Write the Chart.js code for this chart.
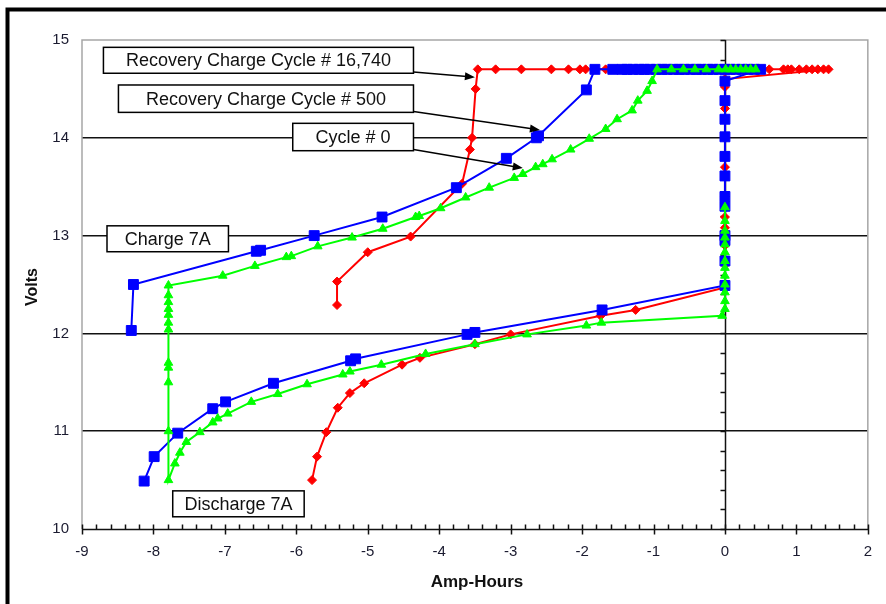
<!DOCTYPE html>
<html>
<head>
<meta charset="utf-8">
<title>Battery cycle curves</title>
<script src="https://cdn.jsdelivr.net/npm/chart.js@4.4.1/dist/chart.umd.min.js"></script>
<style>
  html, body { margin: 0; padding: 0; background: #fff; }
  #wrap { width: 886px; height: 604px; }
</style>
</head>
<body>
<div id="wrap"><canvas id="voltsChart" width="886" height="604"></canvas></div>
<script>
// Recovery Charge Cycle # 16,740 (red diamonds): charge, back to 0, rest, discharge
const cycle16740Ah = [-5.43, -5.43, -5.0, -4.40, -3.68, -3.57, -3.54, -3.49, -3.46,
  -3.21, -2.85, -2.43, -2.19, -2.03, -1.95, -1.67, -1.2, -0.6, 0.0, 0.4, 0.62, 0.82, 0.88, 0.93, 1.04, 1.14, 1.22, 1.30, 1.38, 1.45,
  0, 0, 0, 0, 0, 0, 0, 0, 0, 0, 0,
  0, -1.25, -1.74, -3.0, -3.5, -4.27, -4.52, -5.05, -5.25, -5.42, -5.58, -5.71, -5.78];
const cycle16740V = [12.29, 12.53, 12.83, 12.99, 13.53, 13.88, 14.0, 14.5, 14.7,
  14.7, 14.7, 14.7, 14.7, 14.7, 14.7, 14.7, 14.7, 14.7, 14.7, 14.7, 14.7, 14.7, 14.7, 14.7, 14.7, 14.7, 14.7, 14.7, 14.7, 14.7,
  14.6, 14.52, 14.3, 14.0, 13.7, 13.4, 13.19, 13.08, 12.9, 12.7, 12.5,
  12.47, 12.24, 12.18, 11.99, 11.89, 11.75, 11.68, 11.49, 11.39, 11.24, 10.99, 10.74, 10.5];

// Recovery Charge Cycle # 500 (blue squares)
const cycle500Ah = [-8.31, -8.28, -6.56, -6.50, -5.75, -4.80, -3.76, -3.06, -2.64, -2.61, -1.94, -1.82, -1.57,
  -1.44, -1.37, -1.29, -1.2, -1.13, -1.05, -0.96, -0.88, -0.81, -0.72, -0.64, -0.57, -0.48, -0.4, -0.33, -0.24, -0.17, -0.08, 0.0, 0.07, 0.15, 0.24, 0.32, 0.41, 0.5,
  0, 0, 0, 0, 0, 0, 0, 0, 0, 0, 0, 0,
  -1.72, -3.50, -3.61, -5.17, -5.24, -6.32, -6.99, -7.17, -7.66, -7.99, -8.13];
const cycle500V = [12.03, 12.5, 12.84, 12.85, 13.0, 13.19, 13.49, 13.79, 14.0, 14.02, 14.49, 14.7, 14.7,
  14.7, 14.7, 14.7, 14.7, 14.7, 14.7, 14.7, 14.7, 14.7, 14.7, 14.7, 14.7, 14.7, 14.7, 14.7, 14.7, 14.7, 14.7, 14.7, 14.7, 14.7, 14.7, 14.7, 14.7, 14.7,
  14.58, 14.38, 14.19, 14.01, 13.81, 13.61, 13.4, 13.3, 13.0, 12.95, 12.74, 12.49,
  12.24, 12.01, 11.99, 11.74, 11.72, 11.49, 11.3, 11.23, 10.98, 10.74, 10.49];

// Cycle # 0 (green triangles): rest, discharge, rest, charge
const cycle0Ah = [0, 0, 0, 0, 0, 0, 0, 0, 0, 0, 0, 0, 0,
  -0.04, -1.73, -1.94, -2.77, -3.50, -4.19, -4.81, -5.25, -5.35, -5.85, -6.26, -6.63, -6.96, -7.10, -7.17, -7.35, -7.54, -7.63, -7.70, -7.79,
  -7.79, -7.79, -7.79, -7.79, -7.79, -7.79, -7.79, -7.79, -7.79, -7.79, -7.79,
  -7.03, -6.58, -6.14, -6.07, -5.70, -5.22, -4.79, -4.33, -4.28, -3.98, -3.63, -3.30, -2.95, -2.83, -2.65, -2.55, -2.42, -2.16, -1.90, -1.67, -1.51, -1.30, -1.22, -1.09, -1.02, -0.95,
  -0.75, -0.58, -0.42, -0.26, -0.09, 0.01, 0.08, 0.15, 0.22, 0.29, 0.36, 0.43];
const cycle0V = [13.29, 13.15, 13.05, 12.98, 12.91, 12.83, 12.74, 12.67, 12.59, 12.5, 12.42, 12.33, 12.25,
  12.18, 12.11, 12.08, 11.99, 11.89, 11.79, 11.68, 11.61, 11.58, 11.48, 11.38, 11.3, 11.18, 11.13, 11.09, 10.99, 10.89, 10.78, 10.67, 10.5,
  11.0, 11.5, 11.65, 11.7, 12.04, 12.11, 12.19, 12.25, 12.32, 12.39, 12.49,
  12.59, 12.69, 12.78, 12.79, 12.89, 12.98, 13.07, 13.19, 13.2, 13.28, 13.39, 13.49, 13.59, 13.63, 13.7, 13.73, 13.78, 13.88, 13.99, 14.09, 14.19, 14.28, 14.38, 14.48, 14.58, 14.7,
  14.7, 14.7, 14.7, 14.7, 14.7, 14.7, 14.7, 14.7, 14.7, 14.7, 14.7, 14.7];

const xTicks = [-9, -8, -7, -6, -5, -4, -3, -2, -1, 0, 1, 2];
const yTicks = [10, 11, 12, 13, 14, 15];

// text boxes, in data units (Amp-Hours, Volts)
const notes = [
  { text: "Recovery Charge Cycle # 16,740", x1: -8.70, x2: -4.36, y1: 14.925, y2: 14.66, arrow: [-4.36, 14.673, -3.50, 14.62] },
  { text: "Recovery Charge Cycle # 500", x1: -8.49, x2: -4.36, y1: 14.54, y2: 14.26, arrow: [-4.36, 14.27, -2.59, 14.08] },
  { text: "Cycle # 0", x1: -6.05, x2: -4.36, y1: 14.148, y2: 13.868, arrow: [-4.36, 13.88, -2.83, 13.69] },
  { text: "Charge 7A", x1: -8.65, x2: -6.95, y1: 13.10, y2: 12.835 },
  { text: "Discharge 7A", x1: -7.73, x2: -5.89, y1: 10.39, y2: 10.125 }
];

const FONT = "'Liberation Sans', Arial, sans-serif";

function toPoints(xs, ys) {
  return xs.map((x, i) => ({ x: x, y: ys[i] }));
}

const frameAndAxes = {
  id: "frameAndAxes",
  beforeDatasetsDraw(chart) {
    const ctx = chart.ctx;
    const area = chart.chartArea;
    const sx = chart.scales.x;
    const sy = chart.scales.y;
    ctx.save();

    // outer frame
    ctx.strokeStyle = "#000";
    ctx.lineWidth = 4;
    ctx.strokeRect(7.5, 9.5, 900, 620);

    // grey plot border
    ctx.strokeStyle = "#a6a6a6";
    ctx.lineWidth = 1.5;
    ctx.beginPath();
    ctx.moveTo(area.left, area.bottom);
    ctx.lineTo(area.left, area.top);
    ctx.lineTo(area.right, area.top);
    ctx.lineTo(area.right, area.bottom);
    ctx.stroke();

    ctx.strokeStyle = "#111";
    ctx.lineWidth = 1.5;

    // vertical axis at 0 Ah
    const x0 = Math.round(sx.getPixelForValue(0)) + 0.5;
    ctx.beginPath();
    ctx.moveTo(x0, area.top);
    ctx.lineTo(x0, area.bottom);
    for (let v = 10; v <= 15.001; v += 0.2) {
      const py = Math.round(sy.getPixelForValue(v)) + 0.5;
      ctx.moveTo(x0 - 5, py);
      ctx.lineTo(x0, py);
    }
    ctx.stroke();

    // horizontal axis at 10 V
    const y0 = Math.round(area.bottom) + 0.5;
    ctx.beginPath();
    ctx.moveTo(area.left, y0);
    ctx.lineTo(area.right, y0);
    for (let a = -9; a <= 2.001; a += 0.2) {
      const px = Math.round(sx.getPixelForValue(a)) + 0.5;
      const major = Math.abs(a - Math.round(a)) < 0.01;
      ctx.moveTo(px, y0 - 5);
      ctx.lineTo(px, major ? y0 + 5 : y0);
    }
    ctx.stroke();
    ctx.restore();
  },
  afterDatasetsDraw(chart) {
    const ctx = chart.ctx;
    const area = chart.chartArea;
    const sx = chart.scales.x;
    const sy = chart.scales.y;
    ctx.save();

    notes.forEach((n) => {
      const left = sx.getPixelForValue(n.x1);
      const right = sx.getPixelForValue(n.x2);
      const top = sy.getPixelForValue(n.y1);
      const bottom = sy.getPixelForValue(n.y2);
      if (n.arrow) {
        const ax = sx.getPixelForValue(n.arrow[0]);
        const ay = sy.getPixelForValue(n.arrow[1]);
        const bx = sx.getPixelForValue(n.arrow[2]);
        const by = sy.getPixelForValue(n.arrow[3]);
        const ang = Math.atan2(by - ay, bx - ax);
        ctx.strokeStyle = "#000";
        ctx.lineWidth = 1.5;
        ctx.beginPath();
        ctx.moveTo(ax, ay);
        ctx.lineTo(bx - 8 * Math.cos(ang), by - 8 * Math.sin(ang));
        ctx.stroke();
        ctx.fillStyle = "#000";
        ctx.beginPath();
        ctx.moveTo(bx, by);
        ctx.lineTo(bx - 10 * Math.cos(ang) + 4 * Math.sin(ang), by - 10 * Math.sin(ang) - 4 * Math.cos(ang));
        ctx.lineTo(bx - 10 * Math.cos(ang) - 4 * Math.sin(ang), by - 10 * Math.sin(ang) + 4 * Math.cos(ang));
        ctx.closePath();
        ctx.fill();
      }
      ctx.fillStyle = "#fff";
      ctx.fillRect(left, top, right - left, bottom - top);
      ctx.strokeStyle = "#000";
      ctx.lineWidth = 1.5;
      ctx.strokeRect(left, top, right - left, bottom - top);
      ctx.fillStyle = "#111";
      ctx.font = "18px " + FONT;
      ctx.textAlign = "center";
      ctx.textBaseline = "middle";
      ctx.fillText(n.text, (left + right) / 2, (top + bottom) / 2 + 1);
    });

    // axis titles
    ctx.fillStyle = "#111";
    ctx.font = "bold 17px " + FONT;
    ctx.textAlign = "center";
    ctx.textBaseline = "middle";
    ctx.fillText("Amp-Hours", 477, 582);
    ctx.save();
    ctx.translate(33, 287);
    ctx.rotate(-Math.PI / 2);
    ctx.font = "bold 16px " + FONT;
    ctx.fillText("Volts", 0, 0);
    ctx.restore();

    ctx.restore();
  }
};

const chart = new Chart(document.getElementById("voltsChart"), {
  type: "scatter",
  data: {
    datasets: [
      {
        label: "Cycle # 0",
        data: toPoints(cycle0Ah, cycle0V),
        showLine: true,
        borderColor: "#00ff00",
        backgroundColor: "#00ff00",
        borderWidth: 2,
        pointStyle: "triangle",
        pointRadius: 5,
        pointBorderWidth: 1,
        order: 1
      },
      {
        label: "Recovery Charge Cycle # 500",
        data: toPoints(cycle500Ah, cycle500V),
        showLine: true,
        borderColor: "#0000ff",
        backgroundColor: "#0000ff",
        borderWidth: 2,
        pointStyle: "rect",
        pointRadius: 7,
        pointBorderWidth: 1,
        order: 2
      },
      {
        label: "Recovery Charge Cycle # 16,740",
        data: toPoints(cycle16740Ah, cycle16740V),
        showLine: true,
        borderColor: "#ff0000",
        backgroundColor: "#ff0000",
        borderWidth: 2,
        pointStyle: "rectRot",
        pointRadius: 4.5,
        pointBorderWidth: 1,
        order: 3
      }
    ]
  },
  options: {
    responsive: false,
    animation: false,
    events: [],
    layout: { padding: { top: 40, right: 16, left: 0, bottom: 0 } },
    plugins: { legend: { display: false }, tooltip: { enabled: false } },
    scales: {
      x: {
        type: "linear",
        min: -9,
        max: 2,
        afterBuildTicks: (s) => { s.ticks = xTicks.map((v) => ({ value: v })); },
        afterFit: (s) => { s.height = 75; },
        ticks: { color: "#1b1b30", font: { family: FONT, size: 15 }, padding: 14 },
        grid: { display: false, drawTicks: false },
        border: { display: false }
      },
      y: {
        min: 10,
        max: 15,
        afterBuildTicks: (s) => { s.ticks = yTicks.map((v) => ({ value: v })); },
        afterFit: (s) => { s.width = 82; },
        ticks: { color: "#1b1b30", font: { family: FONT, size: 15 }, padding: 13 },
        grid: {
          drawTicks: false,
          lineWidth: 1.5,
          color: (c) => (c.tick && c.tick.value > 10 && c.tick.value < 15 ? "#111" : "rgba(0,0,0,0)")
        },
        border: { display: false }
      }
    }
  },
  plugins: [frameAndAxes]
});
</script>
</body>
</html>
